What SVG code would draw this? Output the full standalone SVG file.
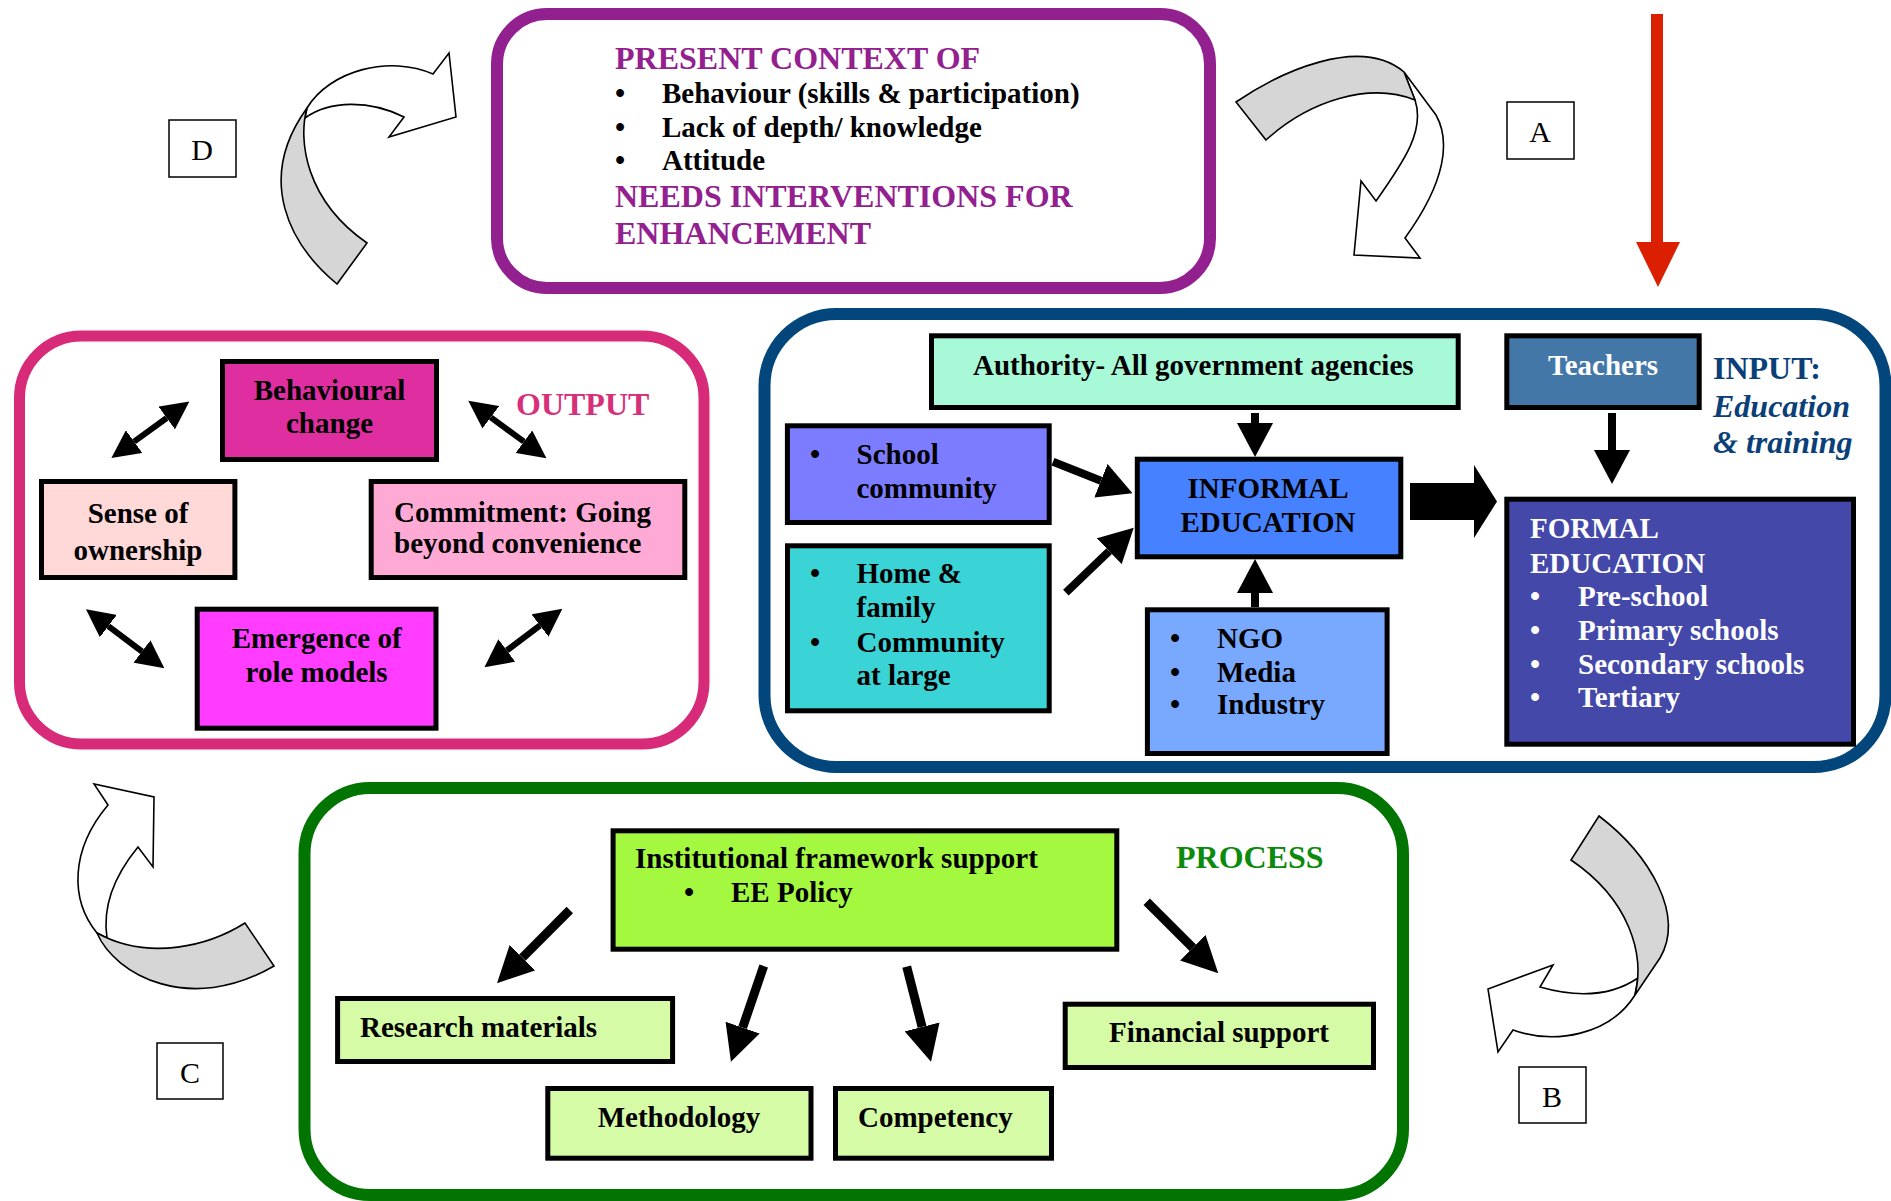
<svg xmlns="http://www.w3.org/2000/svg" width="1891" height="1201" viewBox="0 0 1891 1201">
<defs>
<style>
.t{font-family:"Liberation Serif","Times New Roman",serif;font-weight:bold;font-size:29px;fill:#000}
.h{font-size:32px}
.it{font-style:italic}
.w{fill:#fff}
.m{text-anchor:middle}
.pu{fill:#93208F}
.pk{fill:#D6307A}
.bl{fill:#0B3F78}
.gr{fill:#0B8A0B}
.node{stroke:#000;stroke-width:5}
.frame{fill:#fff}
.lbl rect{fill:#fff;stroke:#000;stroke-width:1.5}
.lbl text{font-family:"Liberation Serif","Times New Roman",serif;font-size:30px;fill:#000;text-anchor:middle}
.cg{fill:#d6d6d6;stroke:#000;stroke-width:1.6}
.cw{fill:#fff;stroke:#000;stroke-width:1.6}
.s6{stroke:#000;stroke-width:6;fill:none}
.s8{stroke:#000;stroke-width:8;fill:none}
.s9{stroke:#000;stroke-width:9;fill:none}
</style>
<marker id="dh" markerUnits="userSpaceOnUse" viewBox="0 0 28 28" refX="0" refY="14" markerWidth="28" markerHeight="28" orient="auto-start-reverse"><path d="M0,0 L28,14 L0,28 Z" fill="#000"/></marker>
<marker id="ah" markerUnits="userSpaceOnUse" viewBox="0 0 34 36" refX="0" refY="18" markerWidth="34" markerHeight="36" orient="auto"><path d="M0,0 L34,18 L0,36 Z" fill="#000"/></marker>
<marker id="ah2" markerUnits="userSpaceOnUse" viewBox="0 0 36 36" refX="0" refY="18" markerWidth="36" markerHeight="36" orient="auto"><path d="M0,0 L36,18 L0,36 Z" fill="#000"/></marker>
</defs>
<rect width="1891" height="1201" fill="#fff"/>

<!-- frames -->
<g id="frame-context">
<rect class="frame" x="497" y="14" width="713" height="274" rx="50" stroke="#93208F" stroke-width="12"/>
<text class="t h pu" x="615" y="69">PRESENT CONTEXT OF</text>
<text class="t" x="615" y="103">•</text><text class="t" x="662" y="103">Behaviour (skills &amp; participation)</text>
<text class="t" x="615" y="137">•</text><text class="t" x="662" y="137">Lack of depth/ knowledge</text>
<text class="t" x="615" y="170">•</text><text class="t" x="662" y="170">Attitude</text>
<text class="t h pu" x="615" y="207">NEEDS INTERVENTIONS FOR</text>
<text class="t h pu" x="615" y="244">ENHANCEMENT</text>
</g>

<g id="frame-output">
<rect class="frame" x="19.5" y="336" width="684.5" height="408" rx="62" stroke="#D72A78" stroke-width="11"/>
<text class="t h pk" x="516" y="415">OUTPUT</text>
</g>

<g id="frame-input">
<rect class="frame" x="764.5" y="314" width="1121" height="453" rx="72" stroke="#02467B" stroke-width="12"/>
<text class="t h bl" x="1713" y="379">INPUT:</text>
<text class="t h bl it" x="1713" y="417">Education</text>
<text class="t h bl it" x="1713" y="453">&amp; training</text>
</g>

<g id="frame-process">
<rect class="frame" x="304.5" y="788" width="1098.5" height="407" rx="66" stroke="#017401" stroke-width="12"/>
<text class="t h gr" x="1176" y="868">PROCESS</text>
</g>

<!-- output nodes -->
<g id="node-behavioural">
<rect class="node" x="222.5" y="361.5" width="214" height="98" fill="#DE2E9F"/>
<text class="t m" x="329.5" y="400">Behavioural</text>
<text class="t m" x="329.5" y="433">change</text>
</g>
<g id="node-ownership">
<rect class="node" x="41.5" y="481.5" width="193.4" height="96" fill="#FFD8D8"/>
<text class="t m" x="138" y="523">Sense of</text>
<text class="t m" x="138" y="560">ownership</text>
</g>
<g id="node-commitment">
<rect class="node" x="371.2" y="481.5" width="313.6" height="96" fill="#FFAAD5"/>
<text class="t" x="394" y="522">Commitment: Going</text>
<text class="t" x="394" y="553">beyond convenience</text>
</g>
<g id="node-rolemodels">
<rect class="node" x="197.2" y="609.2" width="238.8" height="119" fill="#FF3CFF"/>
<text class="t m" x="316.6" y="648">Emergence of</text>
<text class="t m" x="316.6" y="682">role models</text>
</g>

<!-- input nodes -->
<g id="node-authority">
<rect class="node" x="931.5" y="335.8" width="526.7" height="71.7" fill="#A7F9D7"/>
<text class="t" x="973" y="375">Authority- All government agencies</text>
</g>
<g id="node-teachers">
<rect class="node" x="1506.8" y="335.8" width="192.4" height="71.7" fill="#4377A8"/>
<text class="t m w" x="1603" y="375">Teachers</text>
</g>
<g id="node-school">
<rect class="node" x="787.4" y="425.8" width="261.8" height="96.7" fill="#7B7CFF"/>
<text class="t" x="810" y="464">•</text><text class="t" x="856.5" y="464">School</text>
<text class="t" x="856.5" y="498">community</text>
</g>
<g id="node-home">
<rect class="node" x="787.5" y="545.8" width="261.7" height="165" fill="#3AD4D6"/>
<text class="t" x="810" y="583">•</text><text class="t" x="856.5" y="583">Home &amp;</text>
<text class="t" x="856.5" y="617">family</text>
<text class="t" x="810" y="652">•</text><text class="t" x="856.5" y="652">Community</text>
<text class="t" x="856.5" y="685">at large</text>
</g>
<g id="node-informal">
<rect class="node" x="1137.3" y="459.2" width="263.5" height="97.6" fill="#4681FF"/>
<text class="t m" x="1268" y="498">INFORMAL</text>
<text class="t m" x="1268" y="532">EDUCATION</text>
</g>
<g id="node-ngo">
<rect class="node" x="1147.4" y="609.8" width="239.7" height="143.7" fill="#78A9FF"/>
<text class="t" x="1170" y="648">•</text><text class="t" x="1217" y="648">NGO</text>
<text class="t" x="1170" y="682">•</text><text class="t" x="1217" y="682">Media</text>
<text class="t" x="1170" y="714">•</text><text class="t" x="1217" y="714">Industry</text>
</g>
<g id="node-formal">
<rect class="node" x="1506.8" y="499.2" width="346.7" height="245" fill="#4448A9"/>
<text class="t w" x="1530" y="538">FORMAL</text>
<text class="t w" x="1530" y="573">EDUCATION</text>
<text class="t w" x="1530" y="606">•</text><text class="t w" x="1578" y="606">Pre-school</text>
<text class="t w" x="1530" y="640">•</text><text class="t w" x="1578" y="640">Primary schools</text>
<text class="t w" x="1530" y="674">•</text><text class="t w" x="1578" y="674">Secondary schools</text>
<text class="t w" x="1530" y="707">•</text><text class="t w" x="1578" y="707">Tertiary</text>
</g>

<!-- process nodes -->
<g id="node-institutional">
<rect class="node" x="613.1" y="830.8" width="503.7" height="118.4" fill="#A4F940"/>
<text class="t" x="635" y="868">Institutional framework support</text>
<text class="t" x="684" y="902">•</text><text class="t" x="731" y="902">EE Policy</text>
</g>
<g id="node-research">
<rect class="node" x="337.6" y="998.5" width="335" height="63" fill="#D5FBA6"/>
<text class="t" x="360" y="1037">Research materials</text>
</g>
<g id="node-methodology">
<rect class="node" x="547.8" y="1088.5" width="263.2" height="69.7" fill="#D5FBA6"/>
<text class="t m" x="679" y="1127">Methodology</text>
</g>
<g id="node-competency">
<rect class="node" x="835.5" y="1088.5" width="216" height="69.7" fill="#D5FBA6"/>
<text class="t" x="858" y="1127">Competency</text>
</g>
<g id="node-financial">
<rect class="node" x="1065.2" y="1004.2" width="308.3" height="63.3" fill="#D5FBA6"/>
<text class="t m" x="1219" y="1042">Financial support</text>
</g>

<!-- letter labels -->
<g id="label-A" class="lbl"><rect x="1507" y="102" width="67" height="57"/><text x="1540" y="142">A</text></g>
<g id="label-B" class="lbl"><rect x="1519" y="1067" width="67" height="56"/><text x="1552" y="1107">B</text></g>
<g id="label-C" class="lbl"><rect x="157" y="1043" width="66" height="56"/><text x="190" y="1083">C</text></g>
<g id="label-D" class="lbl"><rect x="169" y="120" width="67" height="57"/><text x="202" y="160">D</text></g>

<!-- connectors -->
<g id="connectors">
<!-- output cycle double arrows -->
<line class="s6" x1="134.1" y1="441.6" x2="166.7" y2="418" marker-start="url(#dh)" marker-end="url(#dh)"/>
<line class="s6" x1="490.8" y1="417.3" x2="523.9" y2="441.7" marker-start="url(#dh)" marker-end="url(#dh)"/>
<line class="s6" x1="108.3" y1="626.1" x2="142" y2="651.5" marker-start="url(#dh)" marker-end="url(#dh)"/>
<line class="s6" x1="540" y1="625.5" x2="506.8" y2="650.5" marker-start="url(#dh)" marker-end="url(#dh)"/>
<!-- input arrows -->
<line class="s8" x1="1255" y1="413" x2="1255" y2="423" marker-end="url(#ah)"/>
<line class="s8" x1="1255" y1="607" x2="1255" y2="593" marker-end="url(#ah)"/>
<line class="s8" x1="1053" y1="461.7" x2="1100.9" y2="480.7" marker-end="url(#ah)"/>
<line class="s8" x1="1065.9" y1="592.7" x2="1109.2" y2="551.2" marker-end="url(#ah)"/>
<line class="s8" x1="1612" y1="413" x2="1612" y2="450" marker-end="url(#ah)"/>
<path d="M1410,483 L1474,483 L1474,465 L1497,501.5 L1474,538 L1474,520 L1410,520 Z" fill="#000"/>
<!-- process arrows -->
<line class="s9" x1="569.8" y1="910" x2="522.4" y2="957.7" marker-end="url(#ah2)"/>
<line class="s9" x1="763.7" y1="966" x2="742.6" y2="1027.6" marker-end="url(#ah2)"/>
<line class="s9" x1="906.7" y1="966.7" x2="922.1" y2="1026.9" marker-end="url(#ah2)"/>
<line class="s9" x1="1146.7" y1="901.7" x2="1192.8" y2="947.8" marker-end="url(#ah2)"/>
<!-- red input arrow -->
<line x1="1657" y1="14" x2="1657" y2="243" stroke="#DA2000" stroke-width="12"/>
<path d="M1636,242 L1680,242 L1658,287 Z" fill="#DA2000"/>
<!-- curved cycle arrows -->
<g id="curl-A">
<path class="cw" d="M1404,72 L1436,115 C1450,140 1447,180 1405,238 L1420,258 L1354,255 L1361,181 L1376,201 C1405,160 1425,130 1415,100 Z"/>
<path class="cg" d="M1236,102 C1280,72 1360,35 1404,72 L1415,100 C1370,82 1310,100 1266,140 Z"/>
</g>
<g id="curl-B">
<path class="cw" d="M1638,978 C1610,997 1575,997 1540,987 L1553,965 L1488,989 L1498,1052 L1513,1030 C1555,1045 1610,1035 1635,995 Z"/>
<path class="cg" d="M1599,816 C1650,855 1685,915 1660,958 L1635,995 C1645,955 1630,900 1571,860 Z"/>
</g>
<g id="curl-C">
<path class="cw" d="M97,933 C70,900 70,850 108,805 L94,784 L154,797 L153,867 L138,847 C115,875 102,905 107,938 Z"/>
<path class="cg" d="M245,923 C210,945 150,962 97,933 C115,975 190,1015 274,966 Z"/>
</g>
<g id="curl-D">
<path class="cw" d="M307,108 C330,70 390,55 433,74 L449,53 L456,117 L389,137 L404,117 C370,100 330,100 305,118 Z"/>
<path class="cg" d="M337,284 C290,245 255,180 307,108 C298,140 305,200 367,243 Z"/>
</g>
</g>
</svg>
